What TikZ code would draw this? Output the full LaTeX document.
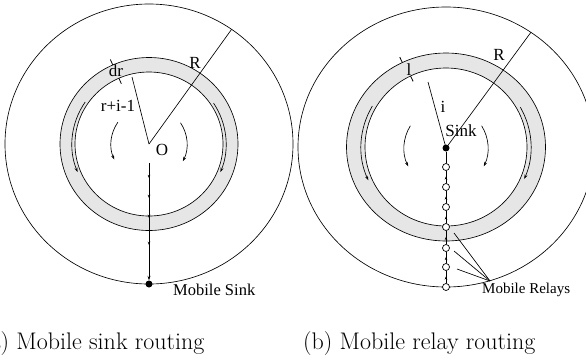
\documentclass[tikz,border=0pt]{standalone}
\usepackage{fontspec}
\newfontfamily\lblfont{Liberation Serif}
\usetikzlibrary{arrows.meta,calc,decorations.markings}

\definecolor{ringgray}{RGB}{230,230,230}

\tikzset{
  wire/.style={line width=0.65pt, draw=black},
  tick/.style={line width=0.8pt, draw=black},
  tip/.style={-{Stealth[length=4.5pt,width=3pt]}},
  lbl/.style={font=\lblfont\fontsize{17}{20}\selectfont, inner sep=0pt},
  caption/.style={font=\fontsize{24}{28}\selectfont, inner sep=0pt, anchor=base west},
  sinkdot/.style={circle, fill=black, minimum size=7pt, inner sep=0pt},
  relay/.style={circle, draw=black, fill=white, line width=0.7pt, minimum size=7pt, inner sep=0pt},
  midtip/.style={postaction=decorate, decoration={markings,
      mark=at position 0.55 with {\arrow{Stealth[length=3.2pt,width=2.6pt]}}}},
  flowtips/.style={postaction=decorate, decoration={markings,
      mark=at position 0.128 with {\arrow{Stealth[length=3.2pt,width=2.6pt]}},
      mark=at position 0.298 with {\arrow{Stealth[length=3.2pt,width=2.6pt]}},
      mark=at position 0.468 with {\arrow{Stealth[length=3.2pt,width=2.6pt]}},
      mark=at position 0.698 with {\arrow{Stealth[length=3.2pt,width=2.6pt]}}}}
}

\begin{document}
\begin{tikzpicture}[x=1pt,y=-1pt]
\useasboundingbox (0,0) rectangle (586,360);

% ---------------- (a) mobile sink routing ----------------
\coordinate (O) at (149,144);
\fill[ringgray, even odd rule] (O) ellipse[x radius=89pt, y radius=86.5pt]
                               (O) ellipse[x radius=74pt, y radius=72pt];
\draw[wire] (O) ellipse[x radius=144pt, y radius=140pt];
\draw[wire] (O) ellipse[x radius=89pt, y radius=86.5pt];
\draw[wire] (O) ellipse[x radius=74pt, y radius=72pt];

% radii
\coordinate (aR) at ($(O)+(55:144pt and 140pt)$);
\coordinate (ai) at (132,77);
\draw[wire] (O) -- (aR);
\draw[wire] (O) -- (ai);

% ring width marks: outside the outer edge, inside the inner edge
\draw[tick] ($(O)+(114:89pt and 86.5pt)$) -- ($(O)+(114:95pt and 92.5pt)$);
\draw[tick] ($(O)+(114:68pt and 66pt)$) -- ($(O)+(114:74pt and 72pt)$);

% flow around the ring
\draw[wire, tip] ($(O)+(146:77pt and 75pt)$) arc[start angle=146, end angle=202, x radius=77pt, y radius=75pt];
\draw[wire, tip] ($(O)+(33:77pt and 75pt)$) arc[start angle=33, end angle=-22, x radius=77pt, y radius=75pt];

% flow towards the centre line
\draw[wire, tip] ($(O)+(145:38pt)$) arc[start angle=145, end angle=204, radius=38pt];
\draw[wire, tip] ($(O)+(34:38pt)$) arc[start angle=34, end angle=-27, radius=38pt];

% path to the mobile sink
\node[sinkdot] (ms) at (149,284) {};
\coordinate (astart) at (149,163);
\draw[wire, tip, flowtips] (astart) -- (ms);

\node[lbl] (aRl) at (195,63) {R};
\node[lbl] (adr) at (116,71) {dr};
\node[lbl] (ari) at (118,106) {r+i-1};
\node[lbl] (aO) at (162,150) {O};
\node[lbl, anchor=base west, font=\lblfont\fontsize{16.5}{19}\selectfont] (msl) at (173,295) {Mobile Sink};

% ---------------- (b) mobile relay routing ----------------
\coordinate (C) at (446,147);
\fill[ringgray, even odd rule] (C) ellipse[x radius=99.5pt, y radius=94pt]
                               (C) ellipse[x radius=81pt, y radius=79pt];
\draw[wire] (C) ellipse[x radius=148pt, y radius=140pt];
\draw[wire] (C) ellipse[x radius=99.5pt, y radius=94pt];
\draw[wire] (C) ellipse[x radius=81pt, y radius=79pt];

\node[sinkdot] (sk) at (446,148) {};

% radii
\coordinate (bR) at ($(C)+(55:148pt and 140pt)$);
\coordinate (bi) at (428,82);
\draw[wire] (sk.center) -- (bR);
\draw[wire] (sk.center) -- (bi);

% ring width marks
\draw[tick] ($(C)+(116:99.5pt and 94pt)$) -- ($(C)+(116:105.5pt and 100pt)$);
\draw[tick] ($(C)+(116:75pt and 73pt)$) -- ($(C)+(116:81pt and 79pt)$);

% flow around the ring
\draw[wire, tip] ($(C)+(150:85pt and 82pt)$) arc[start angle=150, end angle=204, x radius=85pt, y radius=82pt];
\draw[wire, tip] ($(C)+(29:85pt and 82pt)$) arc[start angle=29, end angle=-23, x radius=85pt, y radius=82pt];

% flow towards the relay line
\draw[wire, tip] ($(sk.center)+(148:42pt)$) arc[start angle=148, end angle=206, radius=42pt];
\draw[wire, tip] ($(sk.center)+(32:42pt)$) arc[start angle=32, end angle=-26, radius=42pt];

% relay chain
\foreach \k/\yy in {1/167, 2/187, 3/207, 4/227, 5/248, 6/267, 7/287}
  \node[relay] (r\k) at (446,\yy) {};
\draw[wire] (r1) -- (sk);
\foreach \a/\b in {2/1, 3/2, 4/3, 5/4, 6/5, 7/6}
  \draw[wire, midtip] (r\a) -- (r\b);

% label pointers
\coordinate (pm) at (490,281);
\coordinate (p1) at (454,233);
\coordinate (p2) at (454,251);
\coordinate (p3) at (457,269);
\draw[wire] (pm) -- (p1);
\draw[wire] (pm) -- (p2);
\draw[wire] (pm) -- (p3);

\node[lbl] (bRl) at (499,55) {R};
\node[lbl] (bl) at (409,70) {l};
\node[lbl] (bil) at (443,107) {i};
\node[lbl] (skl) at (461,131) {Sink};
\node[lbl, anchor=base west, font=\lblfont\fontsize{15}{18}\selectfont] (mrl) at (482,293) {Mobile Relays};

% ---------------- captions ----------------
\node[caption] (capa) at (-19,349) {(a) Mobile sink routing};
\node[caption] (capb) at (303,349) {(b) Mobile relay routing};
\end{tikzpicture}
\end{document}
